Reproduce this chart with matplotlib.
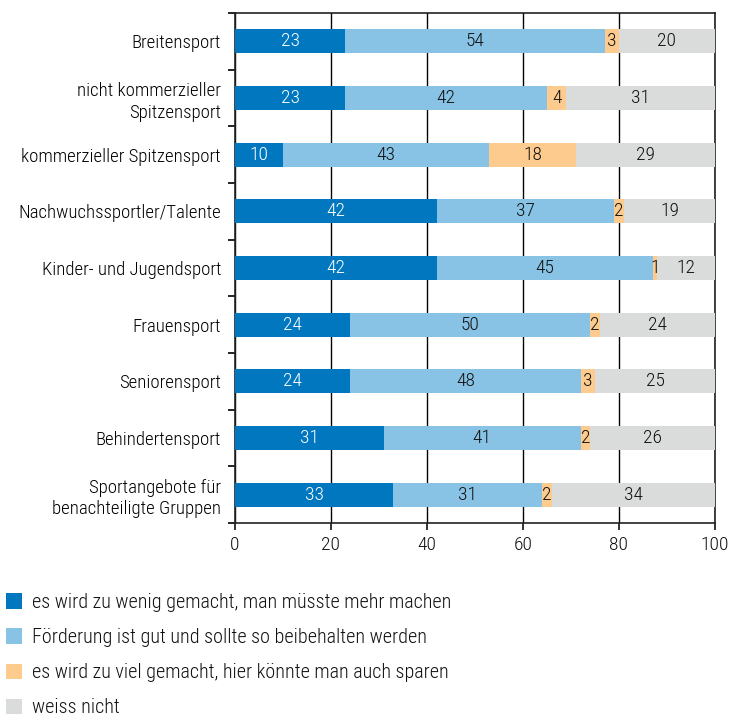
import matplotlib
matplotlib.use("Agg")
import matplotlib.pyplot as plt
from matplotlib.patches import Patch
from matplotlib import font_manager
import numpy as np

# data
categories = ["Breitensport", "nicht kommerzieller\nSpitzensport", "kommerzieller Spitzensport",
              "Nachwuchssportler/Talente", "Kinder- und Jugendsport", "Frauensport",
              "Seniorensport", "Behindertensport", "Sportangebote für\nbenachteiligte Gruppen"]
mehr = [23, 23, 10, 42, 42, 24, 24, 31, 33]
gut = [54, 42, 43, 37, 45, 50, 48, 41, 31]
sparen = [3, 4, 18, 2, 1, 2, 3, 2, 2]
weiss_nicht = [20, 31, 29, 19, 12, 24, 25, 26, 34]
series_labels = ["es wird zu wenig gemacht, man müsste mehr machen",
                 "Förderung ist gut und sollte so beibehalten werden",
                 "es wird zu viel gemacht, hier könnte man auch sparen",
                 "weiss nicht"]
xticks = [0, 20, 40, 60, 80, 100]

colors = ["#0077be", "#88c3e5", "#fdcb8d", "#dadbdb"]
text_colors = ["white", "#111111", "#111111", "#111111"]

# pick a condensed face if one is installed
fonts = font_manager.fontManager.ttflist
names = {f.name for f in fonts}
stretch = 'normal'
fam = None
for cand in ["Roboto Condensed", "Liberation Sans Narrow", "Open Sans Condensed", "Noto Sans Condensed"]:
    if cand in names:
        fam = cand
        break
if fam is None:
    if any(f.name == "DejaVu Sans" and f.stretch == 'condensed' for f in fonts):
        fam, stretch = "DejaVu Sans", 'condensed'
    elif any(f.name == "Noto Sans" and f.stretch == 'condensed' for f in fonts):
        fam, stretch = "Noto Sans", 'condensed'
    elif any(f.name == "Open Sans" and f.stretch == 'condensed' for f in fonts):
        fam, stretch = "Open Sans", 'condensed'
    else:
        fam = "Roboto"
plt.rcParams['font.family'] = [fam, 'DejaVu Sans']
plt.rcParams['font.stretch'] = stretch
plt.rcParams['font.weight'] = 'light'
plt.rcParams['text.color'] = '#111111'
fs = 13.5

fig = plt.figure(figsize=(7.32, 7.17), dpi=100)
ax = fig.add_axes([235/732, 1-523/717, 480/732, 510/717])

y = np.arange(len(categories))
left = np.zeros(len(categories))
all_series = [mehr, gut, sparen, weiss_nicht]
for vals, col, tc in zip(all_series, colors, text_colors):
    vals = np.array(vals)
    ax.barh(y, vals, left=left, height=0.42, color=col, zorder=3)
    for yi, l, v in zip(y, left, vals):
        ax.text(l + v/2, yi, str(v), ha='center', va='center', color=tc, fontsize=14, zorder=4)
    left = left + vals

ax.set_xlim(0, 100)
ax.set_ylim(len(categories)-0.5, -0.5)
ax.set_xticks(xticks)
ax.set_xticklabels([str(t) for t in xticks], fontsize=14)
ax.set_yticks(y)
ax.set_yticklabels(categories, fontsize=fs, linespacing=1.25)
ax.set_yticks(np.arange(len(categories)+1)-0.5, minor=True)
ax.tick_params(axis='y', which='major', length=0, pad=10)
ax.tick_params(axis='y', which='minor', length=5, width=1.2, direction='out')
ax.tick_params(axis='x', length=5, width=1.2, direction='out', pad=4, colors='#111111')
ax.grid(axis='x', color='black', linewidth=1.0, zorder=1)
for s in ax.spines.values():
    s.set_linewidth(1.2)
    s.set_color('#222222')

handles = [Patch(facecolor=c, edgecolor='none') for c in colors]
fig.legend(handles, series_labels, loc='upper left', bbox_to_anchor=(0.0, 1-587/717),
           frameon=False, fontsize=14.5, handlelength=0.8, handleheight=0.8,
           handletextpad=0.5, labelspacing=0.8, borderaxespad=0, borderpad=0.3)

fig.savefig("out.png", dpi=100)
